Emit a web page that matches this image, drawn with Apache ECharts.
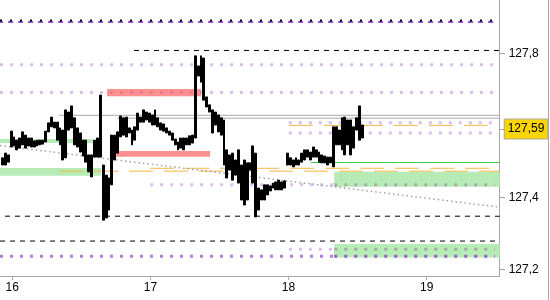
<!DOCTYPE html>
<html><head><meta charset="utf-8">
<script src="https://cdn.jsdelivr.net/npm/echarts@6/dist/echarts.min.js"></script>
<style>html,body{margin:0;padding:0;background:#fff}#c{width:548px;height:300px;border-right:1px solid #a8a8a8}</style>
</head><body><div id="c"></div><script>
// ---- data ----
const startDay = 15.929;          // first 30-minute bar
const stepDay = 1 / 48;           // 30 minutes
const highs = [127.510,127.523,127.518,127.584,127.568,127.559,127.565,127.582,127.573,127.565,
 127.565,127.557,127.559,127.559,127.559,127.584,127.607,127.623,127.609,127.609,
 127.593,127.587,127.643,127.637,127.654,127.621,127.593,127.579,127.559,127.559,
 127.518,127.518,127.559,127.565,127.684,127.490,127.462,127.454,127.573,127.573,
 127.582,127.626,127.621,127.623,127.593,127.587,127.596,127.634,127.623,127.643,
 127.637,127.634,127.629,127.643,127.621,127.607,127.604,127.593,127.584,127.579,
 127.562,127.554,127.565,127.565,127.565,127.571,127.573,127.793,127.765,127.793,
 127.787,127.679,127.657,127.643,127.637,127.629,127.621,127.615,127.532,127.518,
 127.523,127.504,127.532,127.490,127.504,127.496,127.496,127.543,127.523,127.426,
 127.421,127.435,127.435,127.432,127.440,127.443,127.448,127.443,127.446,127.523,
 127.510,127.504,127.510,127.504,127.523,127.532,127.532,127.526,127.540,127.532,
 127.526,127.518,127.515,127.512,127.512,127.596,127.596,127.587,127.621,127.623,
 127.615,127.615,127.596,127.621,127.654,127.601];
const lows = [127.490,127.490,127.498,127.540,127.543,127.532,127.537,127.546,127.537,127.543,
 127.540,127.540,127.543,127.546,127.548,127.554,127.582,127.596,127.593,127.559,
 127.546,127.504,127.510,127.587,127.593,127.546,127.540,127.526,127.515,127.498,
 127.471,127.457,127.512,127.512,127.512,127.337,127.343,127.365,127.435,127.504,
 127.523,127.568,127.573,127.568,127.579,127.546,127.559,127.587,127.609,127.609,
 127.615,127.609,127.601,127.601,127.596,127.587,127.584,127.579,127.573,127.559,
 127.546,127.532,127.537,127.532,127.546,127.546,127.551,127.565,127.737,127.720,
 127.670,127.651,127.637,127.579,127.601,127.582,127.573,127.490,127.454,127.476,
 127.448,127.462,127.440,127.393,127.379,127.393,127.476,127.440,127.346,127.365,
 127.393,127.393,127.407,127.418,127.426,127.421,127.421,127.421,127.426,127.490,
 127.490,127.485,127.490,127.490,127.498,127.504,127.512,127.504,127.512,127.512,
 127.498,127.496,127.496,127.490,127.496,127.485,127.546,127.546,127.532,127.518,
 127.546,127.518,127.537,127.587,127.559,127.565];
const lastPrice = 127.59;
const lastPriceLabel = '127,59';
const xTicks = [16, 17, 18, 19];
const yTickLabels = [127.2, 127.4, 127.8];
const xRange = [15.911, 19.529];
const yRange = [127.182, 127.948];

// horizontal levels: [price, fromDay, toDay]
const topPurpleLevels = [[127.887, 15.911, 19.495]];
const topBlackLevels = [[127.891, 15.911, 19.495]];
const blackDashLevels = [[127.808, 16.881, 19.529], [127.348, 15.947, 19.529], [127.279, 15.911, 19.529]];
const lavenderLevels = [[127.768, 15.911, 19.495], [127.691, 15.911, 19.495], [127.607, 18.002, 19.495],
  [127.579, 18.002, 19.495], [127.435, 16.998, 18.331], [127.256, 18.002, 18.331]];
const grayDotLevels = [[127.435, 18.331, 19.495], [127.256, 18.331, 19.495]];
const purpleLevels = [[127.237, 15.911, 18.331]];
const purpleOnGreenLevels = [[127.237, 18.331, 19.495]];
const grayLineLevels = [[127.628, 16.338, 19.529], [127.620, 16.759, 19.529]];
const orangeLevels = [[127.600, 18.002, 19.445], [127.481, 16.998, 19.529], [127.473, 16.338, 19.529]];
const greenLineLevels = [[127.497, 18.162, 19.529]];
const trendLine = [[15.911, 127.544], [19.529, 127.373]];

// zones: [fromDay, toDay, lowPrice, highPrice]
const greenZones = [[15.911, 16.584, 127.551, 127.562], [15.911, 16.642, 127.460, 127.482],
  [18.331, 19.529, 127.430, 127.471], [18.331, 19.529, 127.233, 127.271]];
const redZones = [[16.686, 17.366, 127.681, 127.701], [16.744, 17.432, 127.513, 127.529]];

// ---- build ----
const FONT = 'Liberation Sans';
function levelSeries(levels, lineStyle, z) {
  return levels.map(([v, a, b]) => ({
    type: 'line', data: [[a, v], [b, v]], symbol: 'none', silent: true,
    animation: false, z: z, lineStyle: Object.assign({ cap: 'butt' }, lineStyle)
  }));
}
function zoneSeries(zones, color, z) {
  return {
    type: 'custom', silent: true, animation: false, z: z,
    encode: { x: [0, 1], y: [2, 3] },
    data: zones,
    renderItem: (params, api) => {
      const p1 = api.coord([api.value(0), api.value(3)]);
      const p2 = api.coord([api.value(1), api.value(2)]);
      return { type: 'rect', shape: { x: p1[0], y: p1[1], width: p2[0] - p1[0], height: p2[1] - p1[1] },
               style: { fill: color } };
    }
  };
}
const candleData = highs.map((h, i) => [startDay + i * stepDay, lows[i], h, lows[i], h]);

const series = [].concat(
  [zoneSeries(greenZones, '#b6ebb6', 1)],
  levelSeries(lavenderLevels, { color: '#dcbff2', width: 3, type: [3, 7] }, 2),
  levelSeries(grayDotLevels, { color: '#a9aca9', width: 3, type: [3, 7] }, 2),
  levelSeries(purpleLevels, { color: '#b47be3', width: 3, type: [3, 7] }, 2),
  levelSeries(purpleOnGreenLevels, { color: '#9a5cc8', width: 3, type: [3, 7] }, 2),
  levelSeries(topPurpleLevels, { color: '#7a1ccc', width: 1.5, type: [5, 5], dashOffset: 2 }, 2),
  levelSeries(topBlackLevels, { color: '#000', width: 2, type: [2, 8] }, 2),
  levelSeries(blackDashLevels, { color: '#000', width: 1, type: [5, 5] }, 2),
  levelSeries(grayLineLevels, { color: '#a8a8a8', width: 1 }, 2),
  levelSeries(orangeLevels, { color: '#f4b640', width: 1, type: [24, 11] }, 2),
  levelSeries(greenLineLevels, { color: '#46c846', width: 1 }, 2),
  [{ type: 'line', data: trendLine, symbol: 'none', silent: true, animation: false, z: 2,
     lineStyle: { color: '#a0a0a0', width: 1.5, type: [1.5, 3] } }],
  [zoneSeries(redZones, 'rgba(255,70,70,0.6)', 3)],
  [{
    type: 'candlestick', z: 4, animation: false, silent: true,
    encode: { x: 0, y: [1, 2, 3, 4] },
    barWidth: 2.4,
    data: candleData,
    itemStyle: { color: '#000', color0: '#000', borderColor: '#000', borderColor0: '#000', borderWidth: 1 },
    markLine: {
      silent: true, symbol: 'none', animation: false, z: 6,
      lineStyle: { color: 'rgba(0,0,0,0)', width: 1, type: 'solid' },
      data: [{ yAxis: lastPrice }],
      label: {
        show: true, position: 'end', distance: 5, formatter: lastPriceLabel,
        color: '#000', fontFamily: FONT, fontSize: 12,
        backgroundColor: '#fbd500', borderColor: '#a8a8a8', borderWidth: 1,
        padding: [4, 3, 3, 3]
      }
    }
  }]
);

const chart = echarts.init(document.getElementById('c'), null, { renderer: 'canvas' });
chart.setOption({
  animation: false,
  backgroundColor: '#fff',
  grid: { left: 0, right: 48.3, top: 0, bottom: 24, containLabel: false },
  xAxis: {
    type: 'value', min: xRange[0], max: xRange[1],
    axisLine: { show: true, lineStyle: { color: '#a8a8a8', width: 1 } },
    axisTick: { show: true, length: 4, lineStyle: { color: '#a8a8a8' }, customValues: xTicks },
    axisLabel: { customValues: xTicks, color: '#000', fontFamily: FONT, fontSize: 12, margin: 6,
                 formatter: v => String(v) },
    splitLine: { show: false }
  },
  yAxis: {
    type: 'value', position: 'right', min: yRange[0], max: yRange[1],
    axisLine: { show: true, lineStyle: { color: '#a8a8a8', width: 1 } },
    axisTick: { show: true, length: 5, lineStyle: { color: '#a8a8a8' }, customValues: yTickLabels.concat([lastPrice]) },
    axisLabel: { customValues: yTickLabels, color: '#000', fontFamily: FONT, fontSize: 12, margin: 9,
                 formatter: v => v.toFixed(1).replace('.', ',') },
    splitLine: { show: false }
  },
  series: series
});
</script></body></html>
